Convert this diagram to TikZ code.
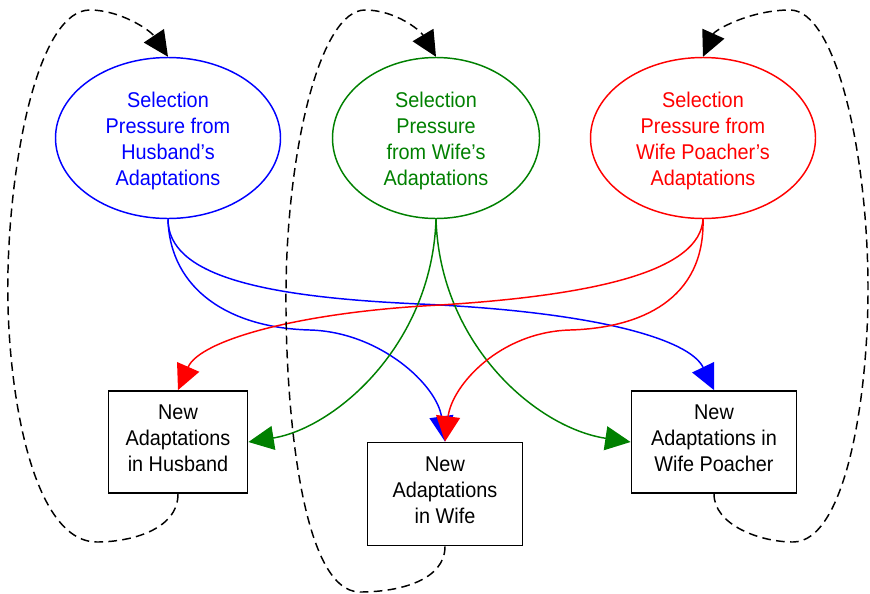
\documentclass[tikz,border=0pt]{standalone}
\usepackage{fontspec}
\setmainfont{Liberation Sans}[FakeStretch=0.93]
\usetikzlibrary{arrows.meta,shapes.geometric}
\definecolor{dkgreen}{RGB}{0,128,0}

\begin{document}
\begin{tikzpicture}[x=0.75pt,y=-0.75pt,
  every node/.style={font=\fontsize{16}{19.5}\selectfont, align=center, inner sep=0pt},
  press/.style={ellipse, draw, line width=1.1pt, minimum height=120.75pt, text height=74.5pt},
  adapt/.style={rectangle, draw=black, line width=1.4pt, minimum height=76.5pt, text depth=6pt},
  link/.style={line width=1.1pt, -{Triangle[length=19pt,width=18pt]}},
  feedback/.style={link, black, dash pattern=on 6.5pt off 4pt}]
  \useasboundingbox (0,0) rectangle (870,593);
  \node[press, blue, minimum width=168.75pt] (SH) at (168,138) {Selection\\Pressure from\\Husband’s\\Adaptations};
  \node[press, dkgreen, minimum width=155.25pt] (SW) at (436,138) {Selection\\Pressure\\from Wife’s\\Adaptations};
  \node[press, red, minimum width=168.75pt] (SP) at (703,138) {Selection\\Pressure from\\Wife Poacher’s\\Adaptations};
  \node[adapt, minimum width=104.25pt] (NH) at (178,442) {New\\Adaptations\\in Husband};
  \node[adapt, minimum width=116.25pt, minimum height=77.25pt] (NW) at (445,494) {New\\Adaptations\\in Wife};
  \node[adapt, minimum width=123.75pt] (NP) at (714,442) {New\\Adaptations in\\Wife Poacher};
  % husband's pressure
  \draw[link, blue] (SH.south) .. controls (170,290) and (230,328) .. (310,330) .. controls (380,332) and (437,385) .. (NW.north);
  \draw[link, blue] (SH.south) .. controls (168,275) and (260,297) .. (420,304) .. controls (600,312) and (690,340) .. (NP.north);
  % wife's pressure
  \draw[link, dkgreen] (SW.south) .. controls (432,345) and (335,428) .. (NH.east);
  \draw[link, dkgreen] (SW.south) .. controls (440,345) and (537,428) .. (NP.west);
  % wife poacher's pressure
  \draw[link, red] (SP.south) .. controls (700,270) and (600,295) .. (440,305) .. controls (300,312) and (200,340) .. (NH.north);
  \draw[link, red] (SP.south) .. controls (705,300) and (640,328) .. (570,330) .. controls (500,332) and (452,385) .. (NW.north);
  % adaptations feed back
  \draw[feedback] (NH.south) .. controls (178,530) and (130,542) .. (97,542) .. controls (30,542) and (5,380) .. (8,270) .. controls (11,150) and (40,10) .. (90,10) .. controls (120,10) and (150,30) .. (SH.north);
  \draw[feedback] (NW.south) .. controls (445,580) and (400,592) .. (360,592) .. controls (300,592) and (285,400) .. (286,290) .. controls (287,150) and (320,10) .. (365,10) .. controls (395,10) and (420,30) .. (SW.north);
  \draw[feedback] (NP.south) .. controls (714,525) and (760,542) .. (793,542) .. controls (845,542) and (868,400) .. (868,290) .. controls (868,150) and (835,10) .. (790,10) .. controls (750,10) and (715,30) .. (SP.north);
\end{tikzpicture}
\end{document}
